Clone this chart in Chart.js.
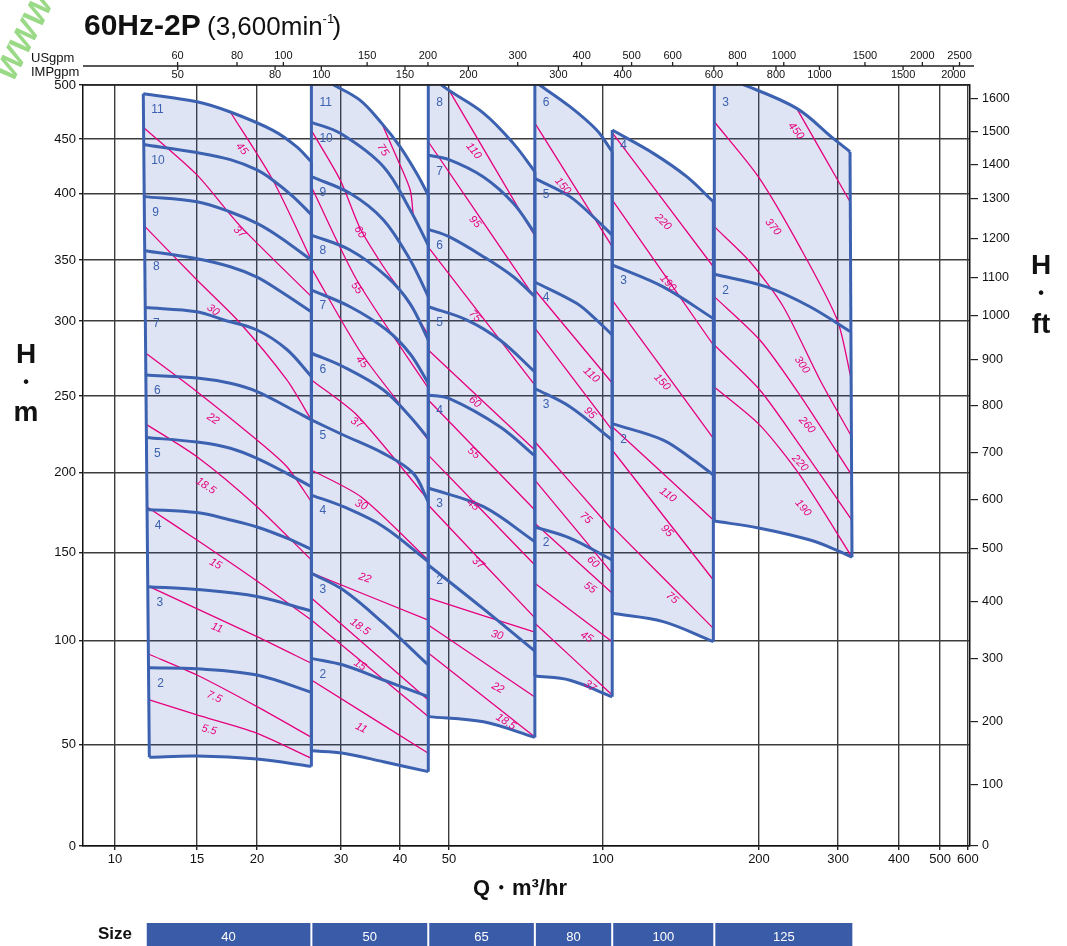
<!DOCTYPE html>
<html lang="ja">
<head>
<meta charset="UTF-8">
<title>60Hz-2P (3,600min-1)</title>
<script src="https://cdn.jsdelivr.net/npm/chart.js@4.4.1/dist/chart.umd.min.js"></script>
<style>
  body { margin: 0; background: #fff; }
  #wrap { width: 1067px; height: 946px; }
</style>
</head>
<body>
<div id="wrap"><canvas id="pump" width="1067" height="946"></canvas></div>
<script>
// axis ticks
const qTicks = [10, 15, 20, 30, 40, 50, 100, 200, 300, 400, 500, 600];
const hTicks = [0, 50, 100, 150, 200, 250, 300, 350, 400, 450, 500];
const ftTicks = [0, 100, 200, 300, 400, 500, 600, 700, 800, 900, 1000, 1100, 1200, 1300, 1400, 1500, 1600];
const usTicks = [60, 80, 100, 150, 200, 300, 400, 500, 600, 800, 1000, 1500, 2000, 2500];
const impTicks = [50, 80, 100, 150, 200, 300, 400, 600, 800, 1000, 1500, 2000];

// pump sizes and their Q limits (m3/hr) along the size bar
const sizes = ['40', '50', '65', '80', '100', '125'];
const sizeEdges = [11.7, 26, 45.5, 73.6, 104.2, 164, 321];

// head curves [stage, [[Q m3/hr, H m], ...]] (last one is the top of the range)
const head40 = [
  [2, [[11.85, 87], [15, 86.5], [20, 83.5], [26, 75.2]]],
  [3, [[11.8, 130.6], [15, 129], [20, 125], [26, 116.8]]],
  [4, [[11.7, 177], [15, 175], [17.6, 170.4], [20, 166], [23.1, 159], [26, 152]]],
  [5, [[11.65, 223], [15, 220], [17.6, 216], [20, 209.4], [23.1, 199.6], [26, 191.2]]],
  [6, [[11.65, 264], [15, 262], [17.6, 258.5], [20, 253], [23.1, 243], [26, 234.4]]],
  [7, [[11.6, 311], [15, 307.6], [17, 301], [20, 294], [23.1, 281], [26, 263]]],
  [8, [[11.6, 357], [15, 351], [17.6, 344.5], [20, 336], [22.25, 325], [26, 307.6]]],
  [9, [[11.55, 397.5], [15, 393.7], [17.6, 386], [20, 377.5], [22.25, 367.5], [26, 350]]],
  [10, [[11.5, 445], [15, 437.5], [17.6, 431], [20, 421.5], [21.6, 412], [23.8, 397.5], [26, 384]]],
  [11, [[11.5, 492], [15, 484.5], [17.6, 475], [21.6, 458], [24.2, 443], [26, 429]]]
];
const bottom40 = [[11.85, 43.8], [15, 44.4], [20, 42.9], [26, 39.3]];

const head50 = [
  [2, [[26, 91.5], [30.34, 88.3], [36.9, 81.1], [45.5, 73.1]]],
  [3, [[26, 138.2], [30.34, 128.7], [36.9, 109.9], [45.5, 88.3]]],
  [4, [[26, 186], [30.34, 178.7], [36.9, 166.2], [45.5, 144.8]]],
  [5, [[26, 234.4], [30.34, 224.6], [36.9, 212.6], [42.5, 199.6], [45.5, 181.8]]],
  [6, [[26, 278.5], [30.34, 269.5], [36.9, 254], [41.9, 236.5], [45.5, 222.4]]],
  [7, [[26, 325.4], [31.35, 311.7], [37.5, 294], [41.9, 278], [45.5, 258.5]]],
  [8, [[26, 368.7], [31.35, 357.5], [37.5, 336.3], [41.9, 314], [45.5, 287.3]]],
  [9, [[26, 415.3], [31.35, 400], [36.9, 380], [41.9, 350], [45.5, 320]]],
  [10, [[26, 465.5], [29.9, 455.3], [36.9, 424.5], [41.9, 387.5], [45.5, 361]]],
  [11, [[26, 512], [28.7, 501], [32.9, 486], [36.6, 464.5], [40, 443], [43.2, 418], [45.5, 398.7]]]
];
const bottom50 = [[26, 47], [30.34, 45.8], [36.9, 41.6], [45.5, 36.7]];

const head65 = [
  [2, [[45.5, 142.9], [58.4, 118], [73.6, 95]]],
  [3, [[45.5, 190.4], [58.4, 178.7], [73.6, 156.8]]],
  [4, [[45.5, 250.7], [50, 248.5], [62.9, 230], [73.6, 211]]],
  [5, [[45.5, 311.7], [54.1, 301], [62.9, 287.3], [73.6, 266]]],
  [6, [[45.5, 373], [50, 367.5], [58.4, 352.5], [66.8, 336.3], [73.6, 320]]],
  [7, [[45.5, 435], [50, 431], [58.4, 415], [66.8, 392.5], [73.6, 370]]],
  [8, [[45.5, 515], [48, 501], [58.4, 474], [66.8, 446], [73.6, 420]]]
];
const bottom65 = [[45.5, 63.5], [58.4, 61], [73.6, 53.5]];

const head80 = [
  [2, [[73.6, 166], [86.2, 159], [104.2, 145.7]]],
  [3, [[73.6, 255], [86.2, 243], [104.2, 221.3]]],
  [4, [[73.6, 332], [88.8, 314.5], [97.2, 300.8], [104.2, 290.7]]],
  [5, [[73.6, 413.8], [86.2, 397.5], [97.2, 380], [104.2, 368.7]]],
  [6, [[73.6, 503], [86.2, 480], [97.2, 458.3], [104.2, 438.3]]]
];
const bottom80 = [[73.6, 83], [86.2, 81], [104.2, 73]];

const head100 = [
  [2, [[104.2, 232], [130.7, 221.3], [149.4, 208.3], [163.3, 198.6]]],
  [3, [[104.2, 346], [130.7, 328], [163.3, 302]]],
  [4, [[104.2, 458.3], [125.1, 436.8], [145.1, 415.3], [163.3, 393.7]]]
];
const bottom100 = [[104.2, 115.5], [130.7, 110.8], [163.3, 99.5]];

const head125 = [
  [2, [[164, 338.3], [208, 328], [259.9, 311.7], [317.5, 293]]],
  [3, [[164, 510], [185.2, 501], [242.7, 478.4], [292.7, 450.6], [317.5, 438.3]]]
];
const bottom125 = [[164, 169.7], [200.9, 165.2], [259.9, 157.8], [296.7, 151.7], [320.5, 147.3]];

// motor output lines [kW, [[Q, H], ...], [label Q, label H]]
const power40 = [
  ['5.5', [[11.85, 71.5], [15, 64.3], [20, 55.5], [26, 43.3]], [15.9, 57.1]],
  ['7.5', [[11.8, 93.6], [15, 83.5], [20, 68.3], [26, 53.6]], [16.3, 72.9]],
  ['11', [[11.85, 130.6], [20, 102.3], [26, 89.1]], [16.5, 107.2]],
  ['15', [[11.7, 178.7], [15, 157.8], [20, 133.8], [26, 111.7]], [16.4, 143.5]],
  ['18.5', [[11.65, 231.7], [15, 210.4], [20, 178.7], [26, 145.7]], [15.65, 191.7]],
  ['22', [[11.65, 278.5], [15, 252.9], [20, 221.3], [23.1, 203.9], [26, 181.8]], [16.2, 235]],
  ['30', [[11.6, 375], [15, 333.6], [18.2, 300.8], [23.1, 260.7], [26, 234.4]], [16.2, 309]],
  ['37', [[11.5, 461], [15, 417], [18.4, 376], [26, 320]], [18.4, 371]],
  ['45', [[17.6, 475], [21.6, 412], [26, 350]], [18.6, 440.8]]
];
const power50 = [
  ['11', [[26, 81.1], [45.5, 45.8]], [33.1, 58]],
  ['15', [[26, 111.7], [45.5, 63.5]], [32.9, 88.3]],
  ['18.5', [[26, 124.2], [45.5, 71.5]], [32.9, 107.8]],
  ['22', [[26, 138.4], [45.5, 111.7]], [33.7, 135.5]],
  ['30', [[26, 201.8], [33.1, 184.8], [45.5, 145.7]], [33.1, 179.8]],
  ['37', [[26, 260.7], [32.4, 237.6], [45.5, 182.9]], [32.4, 232.4]],
  ['45', [[26, 343.4], [33.2, 278], [45.5, 221.3]], [33.2, 272.7]],
  ['55', [[26, 406], [32.4, 333.6], [45.5, 255.3]], [32.4, 327]],
  ['60', [[26, 458], [29.9, 412], [32.9, 374], [36.9, 344.5], [41.3, 317], [45.5, 290.7]], [32.9, 371]],
  ['75', [[36.6, 464.5], [39.3, 433.7], [41.9, 403], [42.5, 382.5]], [36.8, 439.9]]
];
const power65 = [
  ['18.5', [[45.5, 94.1], [73.6, 53.7]], [64.6, 61]],
  ['22', [[45.5, 108.9], [73.6, 72.9]], [62.3, 77.3]],
  ['30', [[45.5, 124.2], [73.6, 104.9]], [62.1, 103.2]],
  ['37', [[45.5, 179.8], [73.6, 112.9]], [57, 144]],
  ['45', [[45.5, 211.5], [73.6, 142.9]], [55.7, 179.8]],
  ['55', [[45.5, 247.4], [73.6, 176.6]], [55.9, 212.8]],
  ['60', [[45.5, 280.7], [73.6, 214.8]], [56.2, 246.1]],
  ['75', [[45.5, 359.7], [73.6, 257.3]], [56.2, 304.1]],
  ['95', [[45.5, 447.5], [73.6, 318.9]], [56.2, 378.5]],
  ['110', [[50.2, 493.8], [73.6, 368]], [55.9, 439]]
];
const power80 = [
  ['37', [[73.6, 109.9], [104.2, 73.9]], [94.3, 78.2]],
  ['45', [[73.6, 132.5], [104.2, 99.5]], [92.9, 102.1]],
  ['55', [[73.6, 168.3], [104.2, 126.9]], [94.3, 130]],
  ['60', [[73.6, 195.4], [104.2, 138.2]], [95.6, 144.6]],
  ['75', [[73.6, 220.2], [104.2, 164.1]], [92.6, 171.6]],
  ['95', [[73.6, 295.3], [104.2, 227.8]], [94.3, 238.9]],
  ['110', [[73.6, 325.4], [104.2, 258.7]], [94.9, 264]],
  ['150', [[73.6, 464.8], [104.2, 360]], [83.5, 406.7]]
];
const power100 = [
  ['75', [[104.2, 166.2], [163.3, 107]], [136, 124.2]],
  ['95', [[104.2, 214.8], [163.3, 134.4]], [132.9, 163.5]],
  ['110', [[104.2, 230], [163.3, 170.4]], [133.5, 186]],
  ['150', [[104.2, 317.2], [163.3, 222.4]], [130, 259.3]],
  ['190', [[104.2, 395], [163.3, 284]], [133.5, 331.1]],
  ['220', [[104.2, 455.9], [163.3, 344.5]], [130.6, 378.5]]
];
const power125 = [
  ['190', [[164, 256], [200.9, 231], [246.5, 198.6], [320.5, 147.4]], [250.7, 177.9]],
  ['220', [[164, 284], [200.9, 254], [246.5, 218], [320, 170.4]], [246.8, 206.3]],
  ['260', [[164, 320], [200.9, 287.3], [246.5, 250.7], [320, 198.6]], [255.8, 231.1]],
  ['300', [[164, 375], [192.2, 348.6], [226.6, 311.7], [273.5, 260.7], [320, 223.5]], [249.4, 270.7]],
  ['370', [[164, 466], [199.4, 415.3], [246.5, 360], [298.9, 300.8], [319, 261.8]], [214.9, 374.7]],
  ['450', [[242.7, 478.4], [276.9, 436.8], [317.5, 393.7]], [241.8, 457.4]]
];

const US_PER_M3 = 4.4029, IMP_PER_M3 = 3.6662, M_PER_FT = 0.3048;

const BLUE = '#3b61b0', PINK = '#e5007e', FILL = 'rgba(60,90,190,0.165)', GRID = '#3c3c3c';
const FONT = "'Liberation Sans', Arial, sans-serif";

const regions = [
  {heads: head40, bottom: bottom40, power: power40},
  {heads: head50, bottom: bottom50, power: power50},
  {heads: head65, bottom: bottom65, power: power65},
  {heads: head80, bottom: bottom80, power: power80},
  {heads: head100, bottom: bottom100, power: power100},
  {heads: head125, bottom: bottom125, power: power125}
];

// scale that follows the printed (hand spaced) grid: piecewise between the labelled ticks
class KnotScale extends Chart.LinearScale {
  static id = 'knot';
  _fn() { return this.options.log ? Math.log10 : (a => a); }
  getPixelForValue(v) {
    const o = this.options, k = o.knots, m = o.marks, f = this._fn();
    const t = f(Math.max(v * (o.factor || 1), o.log ? 1e-6 : -1e9));
    let i = 0;
    while (i < k.length - 2 && t > f(k[i + 1])) i++;
    const d = m[i] + (m[i + 1] - m[i]) * (t - f(k[i])) / (f(k[i + 1]) - f(k[i]));
    return this.getPixelForDecimal(d);
  }
  getValueForPixel(p) {
    const o = this.options, k = o.knots, m = o.marks, f = this._fn();
    const d = this.getDecimalForPixel(p);
    let i = 0;
    while (i < m.length - 2 && d > m[i + 1]) i++;
    const t = f(k[i]) + (f(k[i + 1]) - f(k[i])) * (d - m[i]) / (m[i + 1] - m[i]);
    return (o.log ? Math.pow(10, t) : t) / (o.factor || 1);
  }
}
Chart.register(KnotScale);

const hMarks = [0, .1331, .2698, .3857, .4905, .5913, .6899, .7700, .8577, .9290, 1];

function line(pts, color, width, order, tension) {
  return {
    data: pts.map(([x, y]) => ({x, y})),
    borderColor: color, borderWidth: width, pointRadius: 0,
    tension, fill: false, order
  };
}

const datasets = [];
regions.forEach(r => {
  const top = r.heads[r.heads.length - 1][1];
  const bot = r.bottom;
  const outline = top.concat(bot.slice().reverse(), [top[0]]);
  datasets.push(Object.assign(line(outline, 'transparent', 0, 3, 0), {fill: 'shape', backgroundColor: FILL}));
  r.power.forEach(p => datasets.push(line(p[1], PINK, 1.3, 2, 0.25)));
  r.heads.forEach(h => datasets.push(line(h[1], BLUE, 3, 1, 0.35)));
  datasets.push(line(bot, BLUE, 3, 1, 0.35));
  datasets.push(line([top[0], bot[0]], BLUE, 3, 1, 0));
  datasets.push(line([top[top.length - 1], bot[bot.length - 1]], BLUE, 3, 1, 0));
});

function txt(ctx, s, x, y, font, color, align, base) {
  ctx.save();
  ctx.font = font;
  ctx.fillStyle = color;
  ctx.textAlign = align || 'center';
  ctx.textBaseline = base || 'middle';
  ctx.fillText(s, x, y);
  ctx.restore();
}

const extras = {
  id: 'extras',
  afterDatasetsDraw(chart) {
    const ctx = chart.ctx, xs = chart.scales.x, ys = chart.scales.y, area = chart.chartArea;
    regions.forEach(r => {
      r.heads.forEach(([st, c]) => {
        const px = xs.getPixelForValue(c[0][0]) + 8;
        const py = Math.max(ys.getPixelForValue(c[0][1]) + 16, area.top + 18);
        txt(ctx, String(st), px, py, '12px ' + FONT, BLUE, 'left');
      });
      r.power.forEach(([kw, c, lab]) => {
        const pts = c.map(([q, h]) => [xs.getPixelForValue(q), ys.getPixelForValue(h)]);
        const lx = xs.getPixelForValue(lab[0]), ly = ys.getPixelForValue(lab[1]);
        let i = 0;
        while (i < pts.length - 2 && lx > pts[i + 1][0]) i++;
        const ang = Math.atan2(pts[i + 1][1] - pts[i][1], pts[i + 1][0] - pts[i][0]);
        ctx.save();
        ctx.translate(lx, ly);
        ctx.rotate(ang * 0.85);
        txt(ctx, kw, 0, 0, 'italic 11px ' + FONT, PINK);
        ctx.restore();
      });
    });
  },
  afterDraw(chart) {
    const ctx = chart.ctx, xs = chart.scales.x, area = chart.chartArea;
    // watermark
    ctx.save();
    ctx.translate(26, 38);
    ctx.rotate(-1.1);
    txt(ctx, 'WWW', 0, 0, 'italic bold 32px ' + FONT, 'rgba(120,205,95,0.75)', 'center');
    ctx.restore();
    // title
    txt(ctx, '60Hz-2P', 84, 35, 'bold 30px ' + FONT, '#111', 'left', 'alphabetic');
    ctx.save();
    ctx.font = '26px ' + FONT;
    const w = ctx.measureText('(3,600min').width;
    ctx.restore();
    txt(ctx, '(3,600min', 207, 35, '26px ' + FONT, '#111', 'left', 'alphabetic');
    txt(ctx, '-1', 207 + w, 23, '13px ' + FONT, '#111', 'left', 'alphabetic');
    txt(ctx, ')', 207 + w + 10, 35, '26px ' + FONT, '#111', 'left', 'alphabetic');
    // flow axes in gallons per minute
    const yl = 66;
    ctx.save();
    ctx.strokeStyle = '#222';
    ctx.lineWidth = 1.3;
    ctx.beginPath();
    ctx.moveTo(area.left, yl);
    ctx.lineTo(area.right + 4, yl);
    ctx.moveTo(area.left, area.top);
    ctx.lineTo(area.right, area.top);
    usTicks.forEach(u => {
      const px = xs.getPixelForValue(u / US_PER_M3);
      ctx.moveTo(px, yl);
      ctx.lineTo(px, yl - 4);
      txt(ctx, String(u), px, yl - 10, '11px ' + FONT, '#111');
    });
    impTicks.forEach(u => {
      const px = xs.getPixelForValue(u / IMP_PER_M3);
      ctx.moveTo(px, yl);
      ctx.lineTo(px, yl + 4);
      txt(ctx, String(u), px, yl + 9, '11px ' + FONT, '#111');
    });
    ctx.stroke();
    ctx.restore();
    txt(ctx, 'USgpm', 31, 58, '13px ' + FONT, '#111', 'left');
    txt(ctx, 'IMPgpm', 31, 72, '13px ' + FONT, '#111', 'left');
    // axis titles
    txt(ctx, 'H', 26, 355, 'bold 28px ' + FONT, '#111');
    txt(ctx, '•', 26, 383, 'bold 16px ' + FONT, '#111');
    txt(ctx, 'm', 26, 413, 'bold 28px ' + FONT, '#111');
    txt(ctx, 'H', 1041, 266, 'bold 28px ' + FONT, '#111');
    txt(ctx, '•', 1041, 294, 'bold 16px ' + FONT, '#111');
    txt(ctx, 'ft', 1041, 325, 'bold 28px ' + FONT, '#111');
    txt(ctx, 'Q・m³/hr', 520, 889, 'bold 22px ' + FONT, '#111');
    // size bar
    txt(ctx, 'Size', 115, 934, 'bold 17px ' + FONT, '#111');
    for (let i = 0; i < sizes.length; i++) {
      const x0 = xs.getPixelForValue(sizeEdges[i]) + (i ? 1 : 0);
      const x1 = xs.getPixelForValue(sizeEdges[i + 1]) - (i < sizes.length - 1 ? 1 : 0);
      ctx.fillStyle = '#3a5ba8';
      ctx.fillRect(x0, 923, x1 - x0, 23);
      txt(ctx, sizes[i], (x0 + x1) / 2, 937, '13px ' + FONT, '#fff');
    }
  }
};

new Chart(document.getElementById('pump'), {
  type: 'line',
  data: {datasets},
  options: {
    responsive: false,
    animation: false,
    events: [],
    layout: {padding: {top: 85, left: 0, right: 0, bottom: 0}},
    plugins: {legend: {display: false}, tooltip: {enabled: false}},
    scales: {
      x: {
        type: 'knot', position: 'bottom', min: 8.5, max: 608, bounds: 'data', log: true,
        knots: [8.5, 10, 15, 20, 30, 40, 50, 100, 200, 300, 400, 500, 600, 608],
        marks: [0, .0361, .1285, .1962, .2909, .3574, .4126, .5862, .7621, .8512, .9199, .9662, .9977, 1],
        afterBuildTicks: s => { s.ticks = qTicks.map(v => ({value: v})); },
        afterFit: s => { s.height = 100; },
        grid: {color: GRID, lineWidth: 1.4, tickLength: 4, tickColor: '#222'},
        border: {color: '#111', width: 1.5},
        ticks: {autoSkip: false, maxRotation: 0, padding: 2, color: '#111', font: {family: FONT, size: 13}, callback: v => String(v)}
      },
      y: {
        type: 'knot', position: 'left', min: 0, max: 500, bounds: 'data',
        knots: hTicks, marks: hMarks,
        afterBuildTicks: s => { s.ticks = hTicks.map(v => ({value: v})); },
        afterFit: s => { s.width = 83; },
        grid: {color: GRID, lineWidth: 1.4, tickLength: 4, tickColor: '#222'},
        border: {color: '#111', width: 1.5},
        ticks: {autoSkip: false, padding: 3, color: '#111', font: {family: FONT, size: 13}, callback: v => String(v)}
      },
      yft: {
        type: 'knot', position: 'right', min: 0, max: 500 / M_PER_FT, bounds: 'data', factor: M_PER_FT,
        knots: hTicks, marks: hMarks,
        afterBuildTicks: s => { s.ticks = ftTicks.map(v => ({value: v})); },
        afterFit: s => { s.width = 97; },
        grid: {drawOnChartArea: false, tickLength: 8, color: '#222', lineWidth: 1.2},
        border: {color: '#111', width: 1.5},
        ticks: {autoSkip: false, padding: 4, color: '#111', font: {family: FONT, size: 12.5}, callback: v => String(v)}
      }
    }
  },
  plugins: [extras]
});
</script>
</body>
</html>
